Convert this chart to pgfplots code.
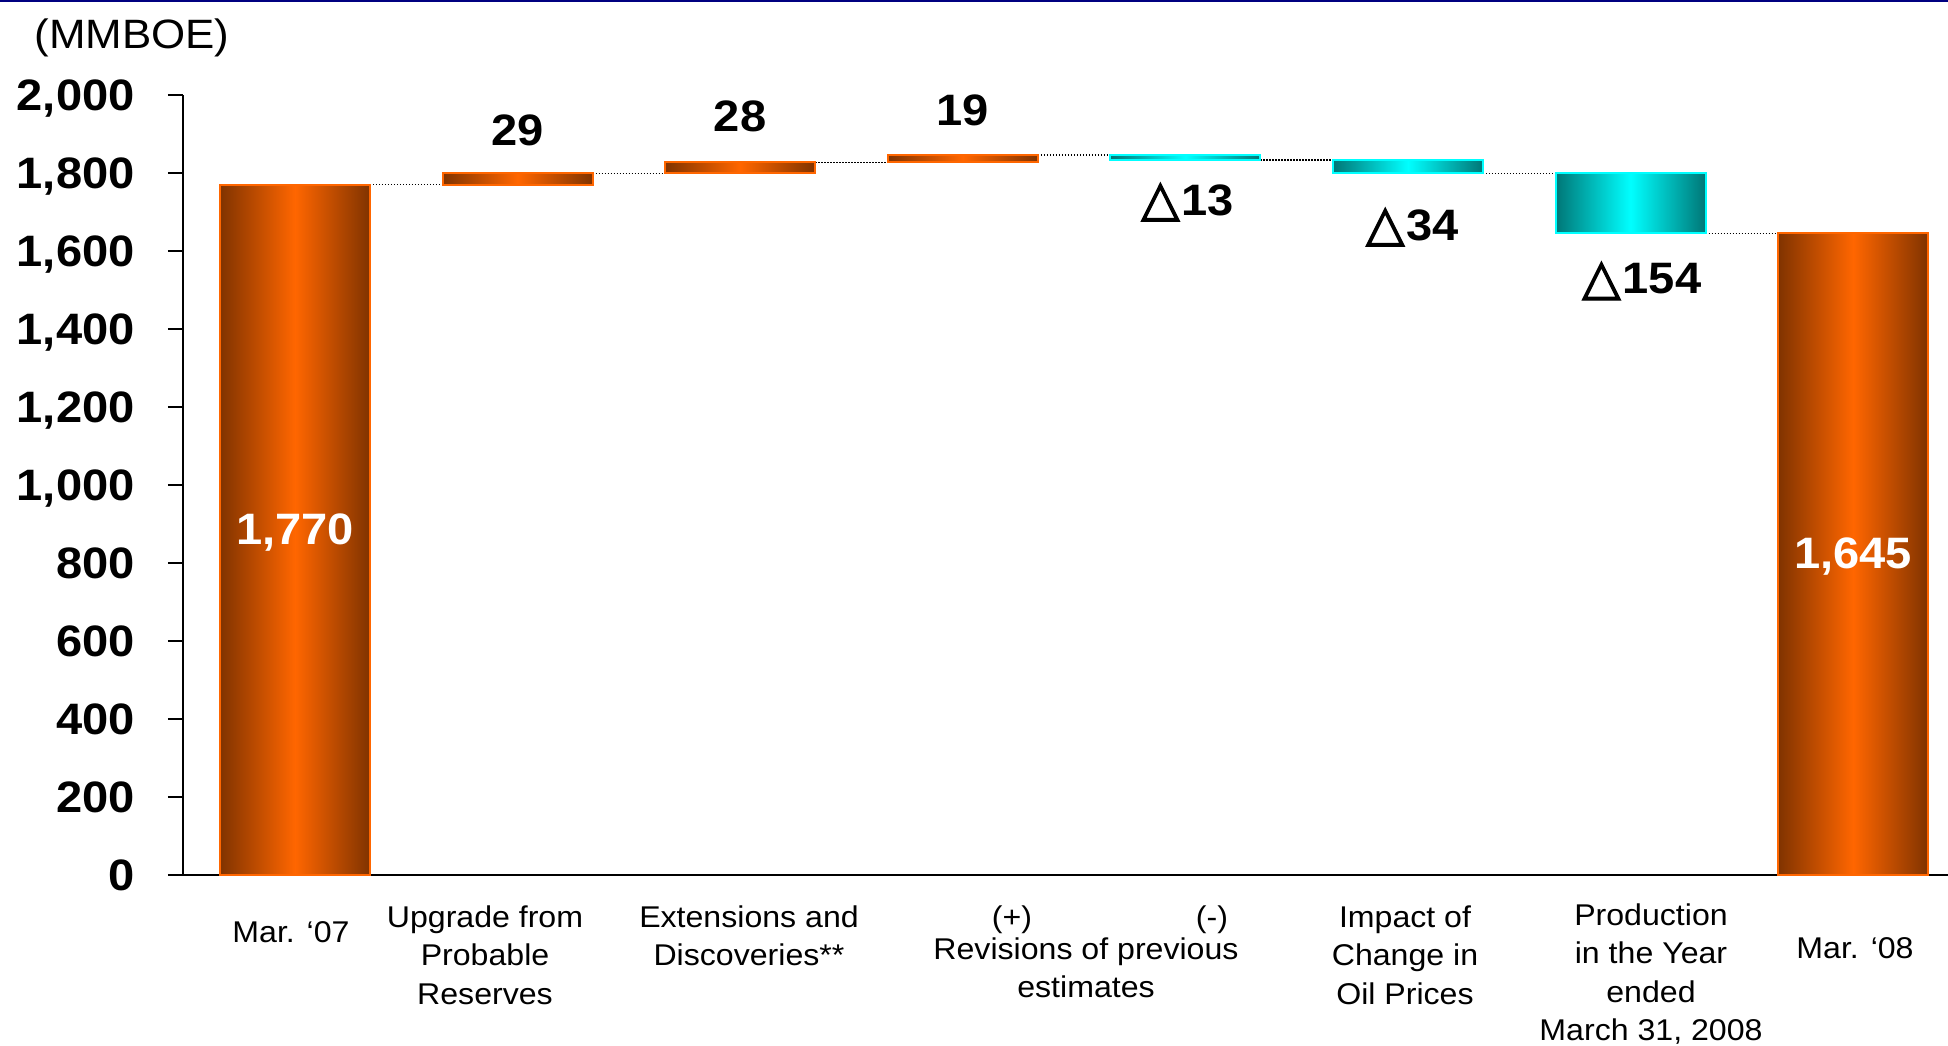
\documentclass[border=0pt]{standalone}
\usepackage{pgfplots}
\pgfplotsset{compat=1.18}
\usepackage{fontspec}
\setmainfont[FakeStretch=1.07]{Liberation Sans}
\newfontfamily\tri[FakeBold=2.5]{DejaVu Sans}
\definecolor{ordark}{RGB}{128,51,0}
\definecolor{orbright}{RGB}{255,102,0}
\definecolor{cydark}{RGB}{0,118,118}
\definecolor{cybright}{RGB}{0,255,255}
\definecolor{topnavy}{RGB}{0,0,128}
\tikzset{
  orbar/.style={draw=orbright, line width=1bp, left color=ordark, right color=ordark, middle color=orbright},
  cybar/.style={draw=cybright, line width=1bp, left color=cydark, right color=cydark, middle color=cybright},
  conn/.style={black, line width=0.7bp, dash pattern=on 0.7bp off 0.8bp},
  vlab/.style={font=\bfseries\fontsize{22bp}{26bp}\selectfont, text depth=0pt, inner sep=0pt},
  clab/.style={font=\fontsize{15bp}{19.25bp}\selectfont, align=center, anchor=north, inner sep=0pt},
}
\newcommand{\dtri}{{\tri\fontsize{25bp}{26bp}\selectfont △}\kern1bp}
\begin{document}
\begin{tikzpicture}
\useasboundingbox (0,0) rectangle (974bp,523bp);
\fill[topnavy] (0,522bp) rectangle (974bp,523bp);
\begin{axis}[
  scale only axis, width=882.5bp, height=390bp,
  at={(91.5bp,85.5bp)}, anchor=south west,
  xmin=-0.503, xmax=7.426, ymin=0, ymax=2000,
  enlargelimits=false,
  axis x line*=bottom, axis y line*=left,
  axis line style={black, line width=0.9bp, -},
  xtick=\empty,
  ytick={0,200,400,600,800,1000,1200,1400,1600,1800,2000},
  yticklabels={0,200,400,600,800,{1,000},{1,200},{1,400},{1,600},{1,800},{2,000}},
  tick align=outside, major tick length=7.5bp,
  tick style={black, line width=0.8bp},
  yticklabel style={font=\bfseries\fontsize{22bp}{26bp}\selectfont, anchor=east, inner sep=0pt, text depth=0pt, xshift=-16.5bp},
  clip=false,
]
% connectors
\addplot[conn] coordinates {(0.337,1770) (0.70,1770)};
\addplot[conn] coordinates {(1.337,1799) (1.70,1799)};
\addplot[conn] coordinates {(2.337,1827) (2.70,1827)};
\addplot[conn] coordinates {(3.337,1846) (3.70,1846)};
\addplot[conn] coordinates {(4.337,1833) (4.70,1833)};
\addplot[conn] coordinates {(5.337,1799) (5.70,1799)};
\addplot[conn] coordinates {(6.337,1645) (6.70,1645)};
% bars
\addplot[orbar] coordinates {(-0.337,0) (0.337,0) (0.337,1770) (-0.337,1770)} -- cycle;
\addplot[orbar] coordinates {(0.663,1770) (1.337,1770) (1.337,1799) (0.663,1799)} -- cycle;
\addplot[orbar] coordinates {(1.663,1799) (2.337,1799) (2.337,1827) (1.663,1827)} -- cycle;
\addplot[orbar] coordinates {(2.663,1827) (3.337,1827) (3.337,1846) (2.663,1846)} -- cycle;
\addplot[cybar] coordinates {(3.663,1833) (4.337,1833) (4.337,1846) (3.663,1846)} -- cycle;
\addplot[cybar] coordinates {(4.663,1799) (5.337,1799) (5.337,1833) (4.663,1833)} -- cycle;
\addplot[cybar] coordinates {(5.663,1645) (6.337,1645) (6.337,1799) (5.663,1799)} -- cycle;
\addplot[orbar] coordinates {(6.663,0) (7.337,0) (7.337,1645) (6.663,1645)} -- cycle;
% value labels
\node[vlab, white] at (axis cs:0,887) {1,770};
\node[vlab] at (axis cs:1,1910) {29};
\node[vlab] at (axis cs:2,1946) {28};
\node[vlab] at (axis cs:3,1960) {19};
\node[vlab] at (axis cs:4.01,1733) {\dtri 13};
\node[vlab] at (axis cs:5.02,1669) {\dtri 34};
\node[vlab] at (axis cs:6.05,1531) {\dtri 154};
\node[vlab, white] at (axis cs:7,826) {1,645};
\end{axis}
\node[font=\fontsize{20.5bp}{24bp}\selectfont, inner sep=0pt] at (66bp,504bp) {(MMBOE)};
\node[clab] at (145.5bp,62.5bp) {Mar. ‘07};
\node[clab] at (242.5bp,70.5bp) {Upgrade from\\Probable\\Reserves};
\node[clab] at (374.5bp,70.5bp) {Extensions and\\Discoveries**};
\node[clab] at (506bp,70.5bp) {(+)};
\node[clab] at (606bp,70.5bp) {(-)};
\node[clab] at (543bp,54.5bp) {Revisions of previous\\estimates};
\node[clab] at (702.5bp,70.5bp) {Impact of\\Change in\\Oil Prices};
\node[clab] at (825.5bp,71.5bp) {Production\\in the Year\\ended\\March 31, 2008};
\node[clab] at (927.5bp,54.5bp) {Mar. ‘08};
\end{tikzpicture}
\end{document}
